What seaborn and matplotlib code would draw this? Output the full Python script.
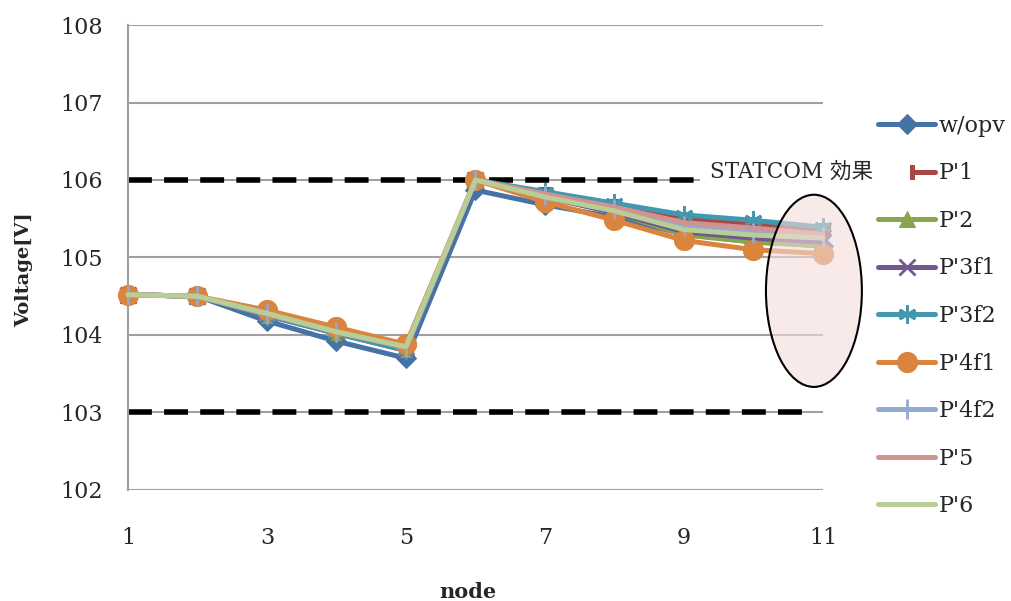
import matplotlib
matplotlib.use("Agg")
import matplotlib.pyplot as plt
import seaborn as sns
import pandas as pd
from matplotlib.patches import Ellipse, Rectangle

nodes = [1, 2, 3, 4, 5, 6, 7, 8, 9, 10, 11]
w_opv = [104.52, 104.50, 104.18, 103.92, 103.70, 105.87, 105.68, 105.52, 105.30, 105.20, 105.15]
p1    = [104.52, 104.50, 104.25, 104.02, 103.80, 106.00, 105.82, 105.66, 105.50, 105.43, 105.35]
p2    = [104.52, 104.50, 104.26, 104.04, 103.82, 106.00, 105.78, 105.58, 105.29, 105.20, 105.15]
p3f1  = [104.52, 104.50, 104.26, 104.04, 103.82, 106.00, 105.78, 105.58, 105.33, 105.25, 105.20]
p3f2  = [104.52, 104.50, 104.25, 104.02, 103.80, 106.00, 105.85, 105.70, 105.55, 105.48, 105.39]
p4f1  = [104.52, 104.50, 104.32, 104.10, 103.88, 106.00, 105.72, 105.48, 105.22, 105.10, 105.05]
p4f2  = [104.52, 104.50, 104.27, 104.04, 103.84, 106.00, 105.80, 105.62, 105.40, 105.32, 105.27]
p5    = [104.52, 104.50, 104.27, 104.04, 103.84, 106.00, 105.82, 105.65, 105.45, 105.38, 105.30]
p6    = [104.52, 104.50, 104.28, 104.04, 103.85, 106.00, 105.78, 105.60, 105.36, 105.29, 105.25]

series_names = ["w/opv", "P'1", "P'2", "P'3f1", "P'3f2", "P'4f1", "P'4f2", "P'5", "P'6"]
series_values = [w_opv, p1, p2, p3f1, p3f2, p4f1, p4f2, p5, p6]
colors = ["#4572A7", "#AA4643", "#89A54E", "#71588F", "#4198AF",
          "#DB843D", "#93A9CF", "#D19392", "#B9CD96"]
markers = ["D", "s", "^", "x", (6, 2, 0), "o", "|", None, None]
msizes = [10, 10, 11, 12, 13, 14.5, 15, 0, 0]

x_ticks = [1, 3, 5, 7, 9, 11]
y_ticks = [102, 103, 104, 105, 106, 107, 108]

sns.set_theme(style="white")
plt.rcParams['font.family'] = ['DejaVu Serif', 'Noto Sans CJK JP']

fig = plt.figure(figsize=(10.11, 6.01), dpi=100)
ax = fig.add_axes([0.1266, 0.1847, 0.6874, 0.7737])

for y in y_ticks:
    ax.axhline(y, color="#a0a0a0", lw=1.5, zorder=1)

ax.plot([1, 9.15], [106, 106], color="black", lw=4, ls=(0, (4.3, 2.2)), zorder=2)
ax.plot([1, 10.8], [103, 103], color="black", lw=4, ls=(0, (4.3, 2.2)), zorder=2)

for i, (name, vals) in enumerate(zip(series_names, series_values)):
    df = pd.DataFrame({"node": nodes, "v": vals})
    kw = dict(marker=markers[i], markersize=msizes[i]) if markers[i] is not None else {}
    if markers[i] in ("x", "|", (6, 2, 0)):
        kw["markeredgewidth"] = 2
    sns.lineplot(data=df, x="node", y="v", color=colors[i], lw=3.6, label=name,
                 ax=ax, zorder=3 + i, markeredgecolor=colors[i], clip_on=False, **kw)

ell = Ellipse((10.87, 104.57), 1.38, 2.48, facecolor="#f2dcdb", alpha=0.6,
              edgecolor="none", zorder=20, clip_on=False)
ax.add_patch(ell)
ell2 = Ellipse((10.87, 104.57), 1.38, 2.48, facecolor="none",
               edgecolor="black", lw=1.5, zorder=21, clip_on=False)
ax.add_patch(ell2)

ax.set_xlim(1, 11)
ax.set_ylim(102, 108)
ax.set_xticks(x_ticks)
ax.set_yticks(y_ticks)
ax.tick_params(axis="both", labelsize=16, length=0)
ax.tick_params(axis="y", pad=18)
ax.tick_params(axis="x", pad=27)
for s in ["top", "right", "bottom"]:
    ax.spines[s].set_visible(False)
ax.spines["left"].set_color("#a0a0a0")
ax.spines["left"].set_linewidth(1.5)

ax.set_xlabel("node", fontsize=15, fontweight="bold")
ax.set_ylabel("Voltage[V]", fontsize=14, fontweight="bold")
ax.xaxis.set_label_coords(0.489, -0.197)
ax.yaxis.set_label_coords(-0.136, 0.473)

leg = ax.legend(loc="upper left", bbox_to_anchor=(1.066, 0.826), frameon=False,
                fontsize=16, handlelength=2.6, labelspacing=1.15, handletextpad=0.15,
                borderaxespad=0)

# white text box of the annotation, overlapping the legend like in the original
fig.patches.append(Rectangle((700 / 1011, (601 - 187) / 601), 210 / 1011, 29 / 601,
                             transform=fig.transFigure, facecolor="white",
                             edgecolor="none", zorder=1))
fig.text(710 / 1011, (601 - 172) / 601, "STATCOM 効果", fontsize=15.5,
         va="center", ha="left", zorder=2)

fig.savefig("out.png", dpi=100)
